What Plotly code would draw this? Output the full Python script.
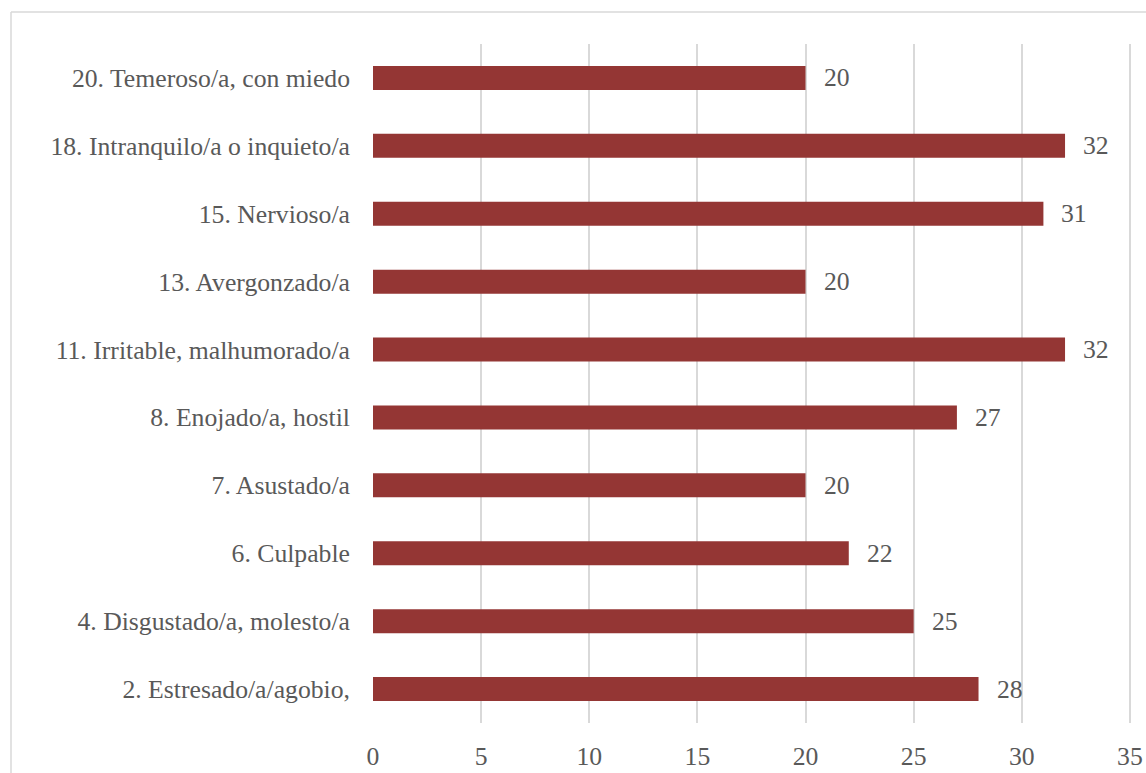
import plotly.graph_objects as go

categories = [
    "2. Estresado/a/agobio,",
    "4. Disgustado/a, molesto/a",
    "6. Culpable",
    "7. Asustado/a",
    "8. Enojado/a, hostil",
    "11. Irritable, malhumorado/a",
    "13. Avergonzado/a",
    "15. Nervioso/a",
    "18. Intranquilo/a o inquieto/a",
    "20. Temeroso/a, con miedo",
]
values = [28, 25, 22, 20, 27, 32, 20, 31, 32, 20]
x_ticks = [0, 5, 10, 15, 20, 25, 30, 35]

FONT = "Liberation Serif"
FS = 25.7
TXT = "#595959"
W, H = 1146, 773
L, R, T, B = 373, 15, 44, 50

fig = go.Figure(go.Bar(
    y=categories, x=values, orientation="h",
    marker=dict(color="#943634", line=dict(width=0)),
    hoverinfo="skip",
))

for c, v in zip(categories, values):
    fig.add_annotation(x=v, y=c, text=str(v), showarrow=False,
                       xanchor="left", xshift=16,
                       font=dict(family=FONT, size=FS, color=TXT))

pw = W - L - R
ph = H - T - B
fig.add_shape(type="line", xref="paper", yref="paper",
              x0=(11 - L) / pw, x1=(W + 10 - L) / pw,
              y0=1 + (T - 12) / ph, y1=1 + (T - 12) / ph,
              line=dict(color="#d9d9d9", width=1.5))
fig.add_shape(type="line", xref="paper", yref="paper",
              x0=(11 - L) / pw, x1=(11 - L) / pw,
              y0=1 + (T - 12) / ph, y1=-0.2,
              line=dict(color="#d9d9d9", width=1.5))

fig.update_layout(
    width=W, height=H,
    margin=dict(l=L, r=R, t=T, b=B, autoexpand=False),
    paper_bgcolor="white", plot_bgcolor="white",
    bargap=0.647,
    showlegend=False,
    font=dict(family=FONT, size=FS, color=TXT),
    xaxis=dict(range=[0, 35.05], tickvals=x_ticks, ticktext=[str(t) for t in x_ticks],
               showgrid=True, gridcolor="#d9d9d9", gridwidth=1.5,
               zeroline=False, showline=False, ticks="",
               ticklabelstandoff=15, automargin=False,
               tickfont=dict(family=FONT, size=FS, color=TXT)),
    yaxis=dict(categoryorder="array", categoryarray=categories,
               showgrid=False, zeroline=False, showline=False, ticks="",
               ticklabelstandoff=22, automargin=False,
               tickfont=dict(family=FONT, size=FS, color=TXT)),
)

fig.write_html("out.html")
